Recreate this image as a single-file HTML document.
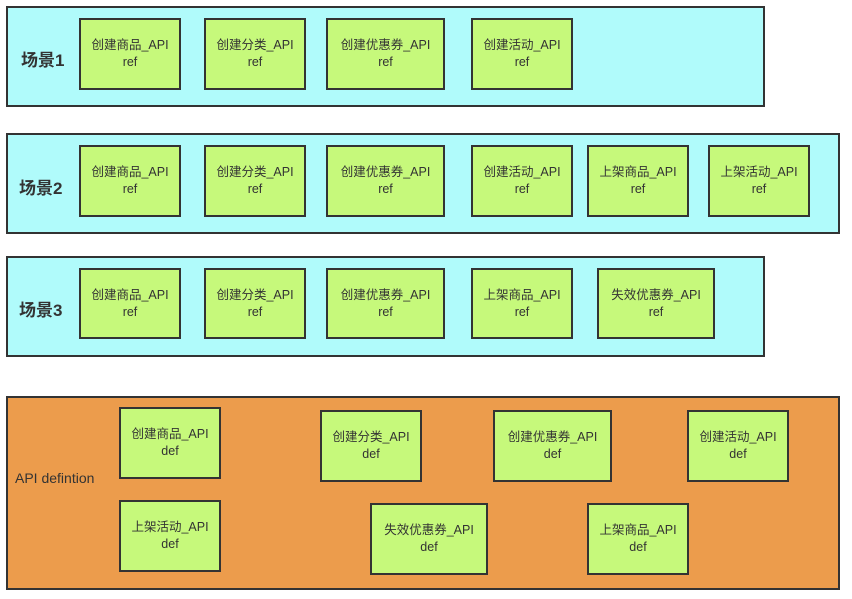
<!DOCTYPE html>
<html><head><meta charset="utf-8"><style>
body{margin:0;width:852px;height:599px;background:#fff;position:relative;overflow:hidden;font-family:"Liberation Sans","Noto Sans CJK SC",sans-serif;}
.o{position:absolute;box-sizing:border-box;border:2px solid #333;}
.c{background:#b0fbfb}
.g{background:#ec9c4c}
.b{position:absolute;box-sizing:border-box;border:2px solid #333;background:#c6f97b;display:flex;flex-direction:column;align-items:center;justify-content:center;font-size:12.5px;line-height:17px;color:#333;text-align:center;}
.l{position:absolute;font-weight:bold;font-size:17px;color:#333;}
</style></head><body>
<div class="o c" style="left:6px;top:6px;width:759px;height:101px"></div>
<div class="o c" style="left:6px;top:133px;width:834px;height:101px"></div>
<div class="o c" style="left:6px;top:256px;width:759px;height:101px"></div>
<div class="o g" style="left:6px;top:396px;width:834px;height:194px"></div>
<div class="l" style="left:21px;top:46px">场景1</div>
<div class="l" style="left:19px;top:174px">场景2</div>
<div class="l" style="left:19px;top:296px">场景3</div>
<div style="position:absolute;left:15px;top:470px;font-size:14px;color:#333">API defintion</div>

<div class="b" style="left:79px;top:18px;width:102px;height:72px">创建商品_API<br>ref</div>
<div class="b" style="left:204px;top:18px;width:102px;height:72px">创建分类_API<br>ref</div>
<div class="b" style="left:326px;top:18px;width:119px;height:72px">创建优惠券_API<br>ref</div>
<div class="b" style="left:471px;top:18px;width:102px;height:72px">创建活动_API<br>ref</div>

<div class="b" style="left:79px;top:145px;width:102px;height:72px">创建商品_API<br>ref</div>
<div class="b" style="left:204px;top:145px;width:102px;height:72px">创建分类_API<br>ref</div>
<div class="b" style="left:326px;top:145px;width:119px;height:72px">创建优惠券_API<br>ref</div>
<div class="b" style="left:471px;top:145px;width:102px;height:72px">创建活动_API<br>ref</div>
<div class="b" style="left:587px;top:145px;width:102px;height:72px">上架商品_API<br>ref</div>
<div class="b" style="left:708px;top:145px;width:102px;height:72px">上架活动_API<br>ref</div>

<div class="b" style="left:79px;top:268px;width:102px;height:71px">创建商品_API<br>ref</div>
<div class="b" style="left:204px;top:268px;width:102px;height:71px">创建分类_API<br>ref</div>
<div class="b" style="left:326px;top:268px;width:119px;height:71px">创建优惠券_API<br>ref</div>
<div class="b" style="left:471px;top:268px;width:102px;height:71px">上架商品_API<br>ref</div>
<div class="b" style="left:597px;top:268px;width:118px;height:71px">失效优惠券_API<br>ref</div>

<div class="b" style="left:119px;top:407px;width:102px;height:72px">创建商品_API<br>def</div>
<div class="b" style="left:320px;top:410px;width:102px;height:72px">创建分类_API<br>def</div>
<div class="b" style="left:493px;top:410px;width:119px;height:72px">创建优惠券_API<br>def</div>
<div class="b" style="left:687px;top:410px;width:102px;height:72px">创建活动_API<br>def</div>
<div class="b" style="left:119px;top:500px;width:102px;height:72px">上架活动_API<br>def</div>
<div class="b" style="left:370px;top:503px;width:118px;height:72px">失效优惠券_API<br>def</div>
<div class="b" style="left:587px;top:503px;width:102px;height:72px">上架商品_API<br>def</div>
</body></html>
